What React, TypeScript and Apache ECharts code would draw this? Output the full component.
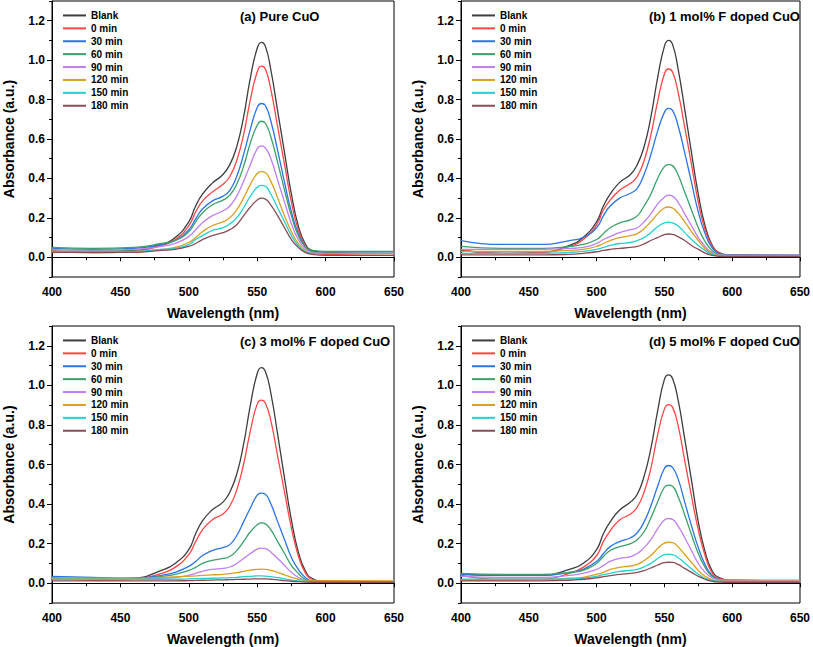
import React, { useEffect, useRef } from "react";
import * as echarts from "echarts";

const WL = [400, 430, 460, 480, 490, 500, 505, 510, 517, 525, 530, 535, 540, 545, 550, 553, 556, 560, 565, 570, 575, 580, 585, 590, 600, 650];

const NAMES = ["Blank", "0 min", "30 min", "60 min", "90 min", "120 min", "150 min", "180 min"];
const COLORS = ["#3d3d3d", "#ff4545", "#2a74e6", "#3aa06a", "#c07ef2", "#d9a01e", "#22d0d0", "#8a4c55"];

const TITLES = ["(a) Pure CuO", "(b) 1 mol% F doped CuO", "(c) 3 mol% F doped CuO", "(d) 5 mol% F doped CuO"];
const Y_TICKS = [0, 0.2, 0.4, 0.6, 0.8, 1.0, 1.2];
const Y_MINOR = [-0.1, 0.1, 0.3, 0.5, 0.7, 0.9, 1.1, 1.3];

// Panel (a) Pure CuO
const A_BLANK = [0.03, 0.03, 0.035, 0.065, 0.10, 0.18, 0.26, 0.32, 0.375, 0.42, 0.47, 0.56, 0.71, 0.91, 1.06, 1.09, 1.07, 0.95, 0.74, 0.53, 0.32, 0.16, 0.07, 0.035, 0.025, 0.02];
const A_0 = [0.035, 0.022, 0.03, 0.06, 0.09, 0.16, 0.23, 0.285, 0.33, 0.37, 0.41, 0.49, 0.62, 0.80, 0.94, 0.97, 0.955, 0.85, 0.66, 0.47, 0.28, 0.14, 0.06, 0.03, 0.015, 0.01];
const A_30 = [0.045, 0.04, 0.045, 0.065, 0.085, 0.14, 0.195, 0.245, 0.285, 0.31, 0.34, 0.41, 0.52, 0.65, 0.76, 0.78, 0.77, 0.69, 0.54, 0.38, 0.23, 0.12, 0.055, 0.03, 0.02, 0.02];
const A_60 = [0.05, 0.045, 0.05, 0.07, 0.085, 0.13, 0.18, 0.225, 0.265, 0.29, 0.315, 0.37, 0.46, 0.58, 0.67, 0.69, 0.68, 0.61, 0.48, 0.34, 0.21, 0.11, 0.055, 0.035, 0.03, 0.03];
const A_90 = [0.04, 0.035, 0.04, 0.055, 0.07, 0.105, 0.14, 0.175, 0.21, 0.235, 0.26, 0.31, 0.385, 0.47, 0.55, 0.565, 0.555, 0.50, 0.39, 0.28, 0.17, 0.09, 0.045, 0.025, 0.02, 0.02];
const A_120 = [0.03, 0.03, 0.03, 0.04, 0.05, 0.075, 0.10, 0.13, 0.16, 0.18, 0.20, 0.24, 0.30, 0.37, 0.425, 0.435, 0.43, 0.385, 0.30, 0.21, 0.13, 0.07, 0.035, 0.02, 0.02, 0.02];
const A_150 = [0.03, 0.03, 0.03, 0.04, 0.045, 0.065, 0.09, 0.11, 0.135, 0.15, 0.17, 0.20, 0.25, 0.31, 0.355, 0.365, 0.36, 0.32, 0.25, 0.18, 0.11, 0.06, 0.03, 0.02, 0.02, 0.02];
const A_180 = [0.025, 0.025, 0.025, 0.035, 0.04, 0.055, 0.07, 0.09, 0.11, 0.125, 0.14, 0.165, 0.21, 0.255, 0.29, 0.30, 0.295, 0.265, 0.21, 0.15, 0.09, 0.05, 0.025, 0.015, 0.01, 0.01];

// Panel (b) 1 mol% F doped CuO
const B_BLANK = [0.035, 0.02, 0.025, 0.06, 0.10, 0.18, 0.26, 0.32, 0.38, 0.42, 0.47, 0.56, 0.71, 0.91, 1.07, 1.10, 1.08, 0.96, 0.75, 0.53, 0.32, 0.16, 0.065, 0.025, 0.012, 0.01];
const B_0 = [0.04, 0.02, 0.025, 0.055, 0.09, 0.165, 0.24, 0.29, 0.34, 0.375, 0.41, 0.49, 0.62, 0.79, 0.93, 0.955, 0.94, 0.84, 0.66, 0.47, 0.28, 0.14, 0.06, 0.022, 0.01, 0.01];
const B_30 = [0.085, 0.065, 0.065, 0.085, 0.10, 0.15, 0.21, 0.26, 0.30, 0.325, 0.35, 0.42, 0.52, 0.64, 0.735, 0.755, 0.745, 0.67, 0.53, 0.38, 0.23, 0.12, 0.05, 0.02, 0.01, 0.01];
const B_60 = [0.055, 0.045, 0.045, 0.055, 0.065, 0.09, 0.12, 0.15, 0.175, 0.19, 0.21, 0.26, 0.32, 0.40, 0.46, 0.47, 0.465, 0.42, 0.33, 0.24, 0.15, 0.08, 0.035, 0.015, 0.01, 0.01];
const B_90 = [0.04, 0.04, 0.04, 0.045, 0.05, 0.07, 0.09, 0.105, 0.125, 0.14, 0.15, 0.18, 0.22, 0.27, 0.305, 0.315, 0.31, 0.28, 0.22, 0.16, 0.10, 0.055, 0.025, 0.012, 0.01, 0.01];
const B_120 = [0.03, 0.03, 0.03, 0.035, 0.04, 0.055, 0.07, 0.085, 0.10, 0.11, 0.12, 0.145, 0.18, 0.22, 0.25, 0.255, 0.25, 0.225, 0.18, 0.13, 0.085, 0.045, 0.02, 0.01, 0.008, 0.008];
const B_150 = [0.02, 0.02, 0.02, 0.025, 0.03, 0.04, 0.05, 0.06, 0.07, 0.075, 0.085, 0.10, 0.125, 0.155, 0.175, 0.178, 0.175, 0.16, 0.125, 0.09, 0.06, 0.035, 0.015, 0.008, 0.006, 0.006];
const B_180 = [0.012, 0.012, 0.012, 0.015, 0.02, 0.028, 0.035, 0.04, 0.045, 0.05, 0.055, 0.068, 0.085, 0.10, 0.115, 0.118, 0.116, 0.105, 0.085, 0.06, 0.04, 0.022, 0.01, 0.005, 0.004, 0.004];

// Panel (c) 3 mol% F doped CuO
const C_BLANK = [0.02, 0.02, 0.025, 0.065, 0.10, 0.17, 0.25, 0.315, 0.37, 0.41, 0.46, 0.55, 0.70, 0.90, 1.06, 1.09, 1.07, 0.96, 0.75, 0.53, 0.32, 0.16, 0.065, 0.025, 0.01, 0.008];
const C_0 = [0.03, 0.015, 0.02, 0.05, 0.08, 0.145, 0.21, 0.27, 0.32, 0.35, 0.39, 0.47, 0.60, 0.77, 0.905, 0.925, 0.91, 0.82, 0.64, 0.46, 0.28, 0.14, 0.055, 0.02, 0.01, 0.008];
const C_30 = [0.035, 0.03, 0.025, 0.04, 0.055, 0.085, 0.11, 0.14, 0.165, 0.18, 0.195, 0.24, 0.31, 0.38, 0.445, 0.455, 0.45, 0.40, 0.31, 0.22, 0.13, 0.07, 0.03, 0.012, 0.008, 0.008];
const C_60 = [0.025, 0.025, 0.02, 0.035, 0.045, 0.065, 0.08, 0.10, 0.115, 0.125, 0.135, 0.165, 0.21, 0.26, 0.295, 0.305, 0.30, 0.27, 0.21, 0.15, 0.09, 0.05, 0.02, 0.01, 0.008, 0.008];
const C_90 = [0.02, 0.02, 0.02, 0.025, 0.03, 0.04, 0.05, 0.06, 0.07, 0.075, 0.082, 0.10, 0.125, 0.15, 0.172, 0.177, 0.175, 0.157, 0.125, 0.09, 0.055, 0.03, 0.015, 0.008, 0.006, 0.006];
const C_120 = [0.025, 0.025, 0.025, 0.03, 0.032, 0.035, 0.037, 0.04, 0.042, 0.045, 0.048, 0.053, 0.06, 0.066, 0.07, 0.071, 0.07, 0.065, 0.055, 0.042, 0.03, 0.02, 0.015, 0.012, 0.012, 0.012];
const C_150 = [0.02, 0.02, 0.02, 0.02, 0.02, 0.022, 0.023, 0.024, 0.025, 0.027, 0.028, 0.03, 0.033, 0.035, 0.037, 0.037, 0.036, 0.033, 0.028, 0.022, 0.016, 0.012, 0.01, 0.008, 0.008, 0.008];
const C_180 = [0.012, 0.012, 0.012, 0.012, 0.012, 0.013, 0.014, 0.015, 0.016, 0.017, 0.018, 0.019, 0.02, 0.021, 0.022, 0.022, 0.022, 0.02, 0.017, 0.013, 0.01, 0.008, 0.006, 0.005, 0.005, 0.005];

// Panel (d) 5 mol% F doped CuO
const D_BLANK = [0.045, 0.04, 0.04, 0.07, 0.10, 0.17, 0.25, 0.31, 0.37, 0.41, 0.45, 0.54, 0.68, 0.87, 1.03, 1.053, 1.035, 0.93, 0.73, 0.52, 0.31, 0.16, 0.065, 0.03, 0.015, 0.012];
const D_0 = [0.04, 0.02, 0.02, 0.05, 0.08, 0.14, 0.21, 0.265, 0.32, 0.35, 0.385, 0.46, 0.58, 0.75, 0.88, 0.903, 0.89, 0.80, 0.62, 0.44, 0.27, 0.14, 0.055, 0.025, 0.015, 0.012];
const D_30 = [0.045, 0.04, 0.04, 0.055, 0.07, 0.11, 0.15, 0.185, 0.21, 0.23, 0.255, 0.31, 0.39, 0.49, 0.58, 0.595, 0.585, 0.53, 0.41, 0.29, 0.18, 0.095, 0.04, 0.02, 0.012, 0.012];
const D_60 = [0.05, 0.045, 0.045, 0.055, 0.065, 0.10, 0.135, 0.165, 0.185, 0.20, 0.22, 0.26, 0.33, 0.41, 0.485, 0.496, 0.49, 0.44, 0.345, 0.245, 0.15, 0.08, 0.035, 0.018, 0.012, 0.012];
const D_90 = [0.035, 0.03, 0.03, 0.04, 0.05, 0.07, 0.09, 0.11, 0.125, 0.135, 0.15, 0.18, 0.22, 0.275, 0.32, 0.327, 0.323, 0.29, 0.23, 0.165, 0.10, 0.055, 0.028, 0.018, 0.015, 0.015];
const D_120 = [0.015, 0.015, 0.018, 0.025, 0.03, 0.045, 0.055, 0.07, 0.08, 0.087, 0.095, 0.115, 0.14, 0.175, 0.203, 0.207, 0.205, 0.185, 0.145, 0.105, 0.065, 0.035, 0.018, 0.012, 0.01, 0.01];
const D_150 = [0.02, 0.02, 0.02, 0.022, 0.025, 0.035, 0.043, 0.05, 0.06, 0.065, 0.07, 0.083, 0.10, 0.125, 0.144, 0.147, 0.145, 0.13, 0.102, 0.073, 0.045, 0.025, 0.013, 0.01, 0.008, 0.008];
const D_180 = [0.012, 0.012, 0.012, 0.015, 0.02, 0.027, 0.033, 0.038, 0.045, 0.05, 0.055, 0.064, 0.077, 0.092, 0.104, 0.106, 0.105, 0.095, 0.075, 0.055, 0.035, 0.02, 0.01, 0.006, 0.005, 0.005];

const PANELS = [
  [A_BLANK, A_0, A_30, A_60, A_90, A_120, A_150, A_180],
  [B_BLANK, B_0, B_30, B_60, B_90, B_120, B_150, B_180],
  [C_BLANK, C_0, C_30, C_60, C_90, C_120, C_150, C_180],
  [D_BLANK, D_0, D_30, D_60, D_90, D_120, D_150, D_180],
];

const FONT = "Arial, 'Liberation Sans', Helvetica, sans-serif";

const GRIDS = [
  { left: 52, top: 1, width: 342, height: 276 },
  { left: 461, top: 1, width: 342, height: 276 },
  { left: 52, top: 326, width: 342, height: 277 },
  { left: 461, top: 326, width: 342, height: 277 },
];

export default function App() {
  const ref = useRef<HTMLDivElement>(null);
  useEffect(() => {
    if (!ref.current) return;
    const chart = echarts.init(ref.current, null, { renderer: "svg" });
    const xAxis: any[] = [];
    const yAxis: any[] = [];
    const series: any[] = [];
    const legend: any[] = [];
    const title: any[] = [];
    GRIDS.forEach((g, gi) => {
      xAxis.push({
        gridIndex: gi,
        type: "value",
        min: 400,
        max: 650,
        interval: 50,
        axisLine: { show: true, lineStyle: { color: "#000", width: 1 } },
        axisTick: { show: true, length: 4, lineStyle: { color: "#000" } },
        minorTick: { show: true, splitNumber: 2, length: 3, lineStyle: { color: "#000" } },
        splitLine: { show: false },
        minorSplitLine: { show: false },
        axisLabel: { fontSize: 12, fontWeight: "bold", color: "#000", fontFamily: FONT, margin: 9 },
        name: "Wavelength (nm)",
        nameLocation: "middle",
        nameGap: 29,
        nameTextStyle: { fontSize: 14, fontWeight: "bold", color: "#000", fontFamily: FONT },
      });
      yAxis.push({
        gridIndex: gi,
        type: "value",
        min: -0.1,
        max: 1.3,
        position: "left",
        axisLine: { show: true, lineStyle: { color: "#000", width: 1 } },
        axisTick: { show: true, length: 5, customValues: Y_TICKS, lineStyle: { color: "#000" } },
        axisLabel: {
          customValues: Y_TICKS,
          formatter: (v: number) => v.toFixed(1),
          fontSize: 12,
          fontWeight: "bold",
          color: "#000",
          fontFamily: FONT,
          margin: 7,
        },
        splitLine: { show: false },
        name: "Absorbance (a.u.)",
        nameLocation: "middle",
        nameGap: 36,
        nameTextStyle: { fontSize: 14, fontWeight: "bold", color: "#000", fontFamily: FONT },
      });
      yAxis.push({
        gridIndex: gi,
        type: "value",
        min: -0.1,
        max: 1.3,
        position: "left",
        axisLine: { show: false },
        axisTick: { show: true, length: 3, customValues: Y_MINOR, lineStyle: { color: "#000" } },
        axisLabel: { show: false },
        splitLine: { show: false },
      });
      PANELS[gi].forEach((vals, si) => {
        series.push({
          type: "line",
          name: NAMES[si],
          xAxisIndex: gi,
          yAxisIndex: gi * 2,
          data: WL.map((w, i) => [w, vals[i]]),
          symbol: "none",
          smooth: 0.5,
          lineStyle: { width: 1.3, color: COLORS[si] },
          itemStyle: { color: COLORS[si] },
          clip: true,
        });
      });
      legend.push({
        orient: "vertical",
        left: g.left + 11,
        top: g.top + 8,
        padding: 0,
        itemWidth: 23,
        itemHeight: 2,
        itemGap: 0,
        icon: "rect",
        selectedMode: false,
        data: NAMES,
        textStyle: { fontSize: 10, fontWeight: "bold", color: "#000", fontFamily: FONT, lineHeight: 12.9 },
      });
      title.push({
        text: TITLES[gi],
        left: g.left + 188,
        top: g.top + 9,
        padding: 0,
        textStyle: { fontSize: 13, fontWeight: "bold", color: "#000", fontFamily: FONT },
      });
    });
    chart.setOption({
      animation: false,
      backgroundColor: "#fff",
      title,
      legend,
      grid: GRIDS.map((g) => ({ ...g, show: true, borderColor: "#000", borderWidth: 1, backgroundColor: "transparent", containLabel: false })),
      xAxis,
      yAxis,
      series,
    });
    return () => chart.dispose();
  }, []);
  return <div ref={ref} style={{ position: "fixed", left: 0, top: 0, width: 813, height: 647, background: "#fff" }} />;
}
